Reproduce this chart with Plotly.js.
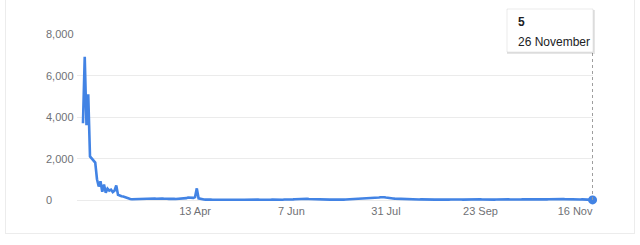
<!DOCTYPE html>
<html>
<head>
<meta charset="utf-8">
<script src="https://cdn.plot.ly/plotly-3.0.1.min.js"></script>
<style>
  html, body { margin: 0; padding: 0; background: #fff; }
  #wrap { position: relative; width: 640px; height: 245px; overflow: hidden; }
  #card { position: absolute; left: 5px; top: -2px; width: 630px; height: 236px;
          border: 1px solid #ececec; border-top: none; box-sizing: border-box; }
  #chart { position: absolute; left: 0; top: 0; width: 640px; height: 245px; }
</style>
</head>
<body>
<div id="wrap">
  <div id="card"></div>
  <div id="chart"></div>
</div>
<script>
// ---- Data (daily values) ----
const startDate = '2020-02-09';
const febValues = [3700, 6900, 3600, 5100, 2100, 2000, 1950, 1800, 1000, 650, 900, 400, 750, 350, 550, 450, 500, 380, 450, 700, 250];
const marValues = [200, 180, 170, 130, 90, 60, 45, 35, 40, 30, 25, 20, 25, 30, 35, 40, 45, 50, 55, 65, 70, 60, 75, 80, 70, 65, 75, 60, 55, 65, 70];
const aprValues = [60, 50, 55, 45, 60, 80, 70, 90, 120, 110, 130, 100, 140, 560, 80, 50, 30, 25, 20, 30, 25, 20, 15, 20, 25, 15, 20, 15, 10, 15];
const mayValues = [15, 20, 10, 15, 20, 15, 10, 20, 25, 15, 10, 15, 20, 15, 10, 15, 20, 25, 20, 15, 10, 15, 20, 15, 10, 15, 20, 15, 10, 20, 25];
const junValues = [20, 15, 25, 20, 15, 20, 25, 30, 35, 40, 50, 60, 70, 65, 55, 60, 50, 45, 40, 35, 30, 35, 30, 25, 30, 25, 20, 25, 20, 25];
const julValues = [20, 25, 20, 25, 30, 25, 20, 25, 30, 25, 30, 35, 30, 35, 40, 45, 40, 50, 55, 60, 70, 75, 80, 90, 100, 110, 120, 130, 140, 135, 120];
const augValues = [100, 90, 80, 70, 65, 60, 55, 50, 45, 50, 45, 40, 35, 40, 35, 30, 35, 30, 25, 30, 25, 30, 25, 20, 25, 30, 25, 20, 25, 20, 25];
const sepValues = [25, 20, 30, 25, 20, 25, 30, 20, 25, 30, 35, 25, 20, 25, 30, 20, 25, 30, 25, 20, 25, 30, 35, 25, 20, 25, 20, 30, 25, 20];
const octValues = [20, 25, 30, 25, 20, 25, 30, 35, 30, 25, 20, 25, 30, 25, 20, 25, 30, 35, 40, 35, 30, 25, 30, 35, 30, 25, 30, 35, 40, 35, 30];
const novValues = [35, 40, 45, 40, 35, 40, 45, 50, 45, 40, 35, 40, 45, 40, 35, 30, 35, 30, 25, 30, 20, 25, 20, 15, 10, 5];

const xTickVals = ['2020-04-13', '2020-06-07', '2020-07-31', '2020-09-23', '2020-11-16'];
const xTickText = ['13 Apr', '7 Jun', '31 Jul', '23 Sep', '16 Nov'];
const yTickVals = [0, 2000, 4000, 6000, 8000];
const yTickText = ['0', '2,000', '4,000', '6,000', '8,000'];
const monthNames = ['January','February','March','April','May','June','July','August','September','October','November','December'];

// ---- Build series ----
const values = [].concat(febValues, marValues, aprValues, mayValues, junValues,
                         julValues, augValues, sepValues, octValues, novValues);
const dates = [];
const d0 = new Date(startDate + 'T00:00:00Z');
for (let i = 0; i < values.length; i++) {
  const d = new Date(d0.getTime() + i * 86400000);
  dates.push(d.toISOString().slice(0, 10));
}
const lastDate = dates[dates.length - 1];
const lastVal = values[values.length - 1];
const lastD = new Date(lastDate + 'T00:00:00Z');
const lastLabel = lastD.getUTCDate() + ' ' + monthNames[lastD.getUTCMonth()];

const blue = '#4283e4';
const font = 'Arial, "Liberation Sans", sans-serif';
const grey = '#6f7175';

// plot geometry
const L = 77, R = 593, T = 33, B = 203, W = 640, H = 245;
const px2paperX = px => (px - L) / (R - L);
const px2paperY = py => (B - py) / (B - T);

const traces = [
  {
    x: dates, y: values, type: 'scatter', mode: 'lines',
    line: { color: blue, width: 2.6 },
    hoverinfo: 'skip'
  },
  {
    x: [lastDate], y: [lastVal], type: 'scatter', mode: 'markers',
    marker: { color: blue, size: 9 },
    cliponaxis: false, hoverinfo: 'skip'
  }
];

const yAnn = yTickVals.map((v, i) => ({
  xref: 'paper', yref: 'y', x: px2paperX(44), y: v,
  xanchor: 'left', yanchor: 'middle', showarrow: false,
  text: yTickText[i], font: { family: font, size: 11, color: grey }
}));

const annotations = yAnn.concat([
  { xref: 'paper', yref: 'paper', x: px2paperX(516), y: px2paperY(22),
    xanchor: 'left', yanchor: 'middle', showarrow: false,
    text: '<b>' + lastVal.toLocaleString('en-US') + '</b>',
    font: { family: font, size: 12, color: '#202124' } },
  { xref: 'paper', yref: 'paper', x: px2paperX(516), y: px2paperY(42),
    xanchor: 'left', yanchor: 'middle', showarrow: false,
    text: lastLabel, font: { family: font, size: 12, color: '#202124' } }
]);

const shapes = [
  // dotted hover line
  { type: 'line', xref: 'x', yref: 'paper', x0: lastDate, x1: lastDate,
    y0: px2paperY(200), y1: px2paperY(52),
    line: { color: '#9a9a9a', width: 1, dash: 'dot' } },
  // tooltip shadow
  { type: 'rect', xref: 'paper', yref: 'paper',
    x0: px2paperX(507), x1: px2paperX(595), y0: px2paperY(54), y1: px2paperY(10),
    fillcolor: 'rgba(0,0,0,0.10)', line: { width: 0 } },
  // tooltip box
  { type: 'rect', xref: 'paper', yref: 'paper',
    x0: px2paperX(507), x1: px2paperX(593), y0: px2paperY(52), y1: px2paperY(9),
    fillcolor: '#ffffff', line: { color: 'rgba(0,0,0,0.08)', width: 1 } }
];

const layout = {
  width: W, height: H,
  margin: { l: L, r: W - R, t: T, b: H - B, pad: 0 },
  paper_bgcolor: 'rgba(0,0,0,0)', plot_bgcolor: 'rgba(0,0,0,0)',
  showlegend: false,
  font: { family: font, size: 11, color: grey },
  xaxis: {
    type: 'date',
    range: ['2020-02-05 14:00', '2020-11-26 06:00'],
    tickvals: xTickVals, ticktext: xTickText,
    showgrid: false, zeroline: false, showline: false, ticks: '',
    tickfont: { family: font, size: 11, color: grey }
  },
  yaxis: {
    range: [-144.6, 8048.2],
    tickvals: yTickVals, showticklabels: false,
    showgrid: true, gridcolor: '#ebebeb', gridwidth: 1,
    zeroline: false, showline: false, ticks: ''
  },
  annotations: annotations,
  shapes: shapes
};

Plotly.newPlot('chart', traces, layout, { displayModeBar: false, staticPlot: true });
</script>
</body>
</html>
